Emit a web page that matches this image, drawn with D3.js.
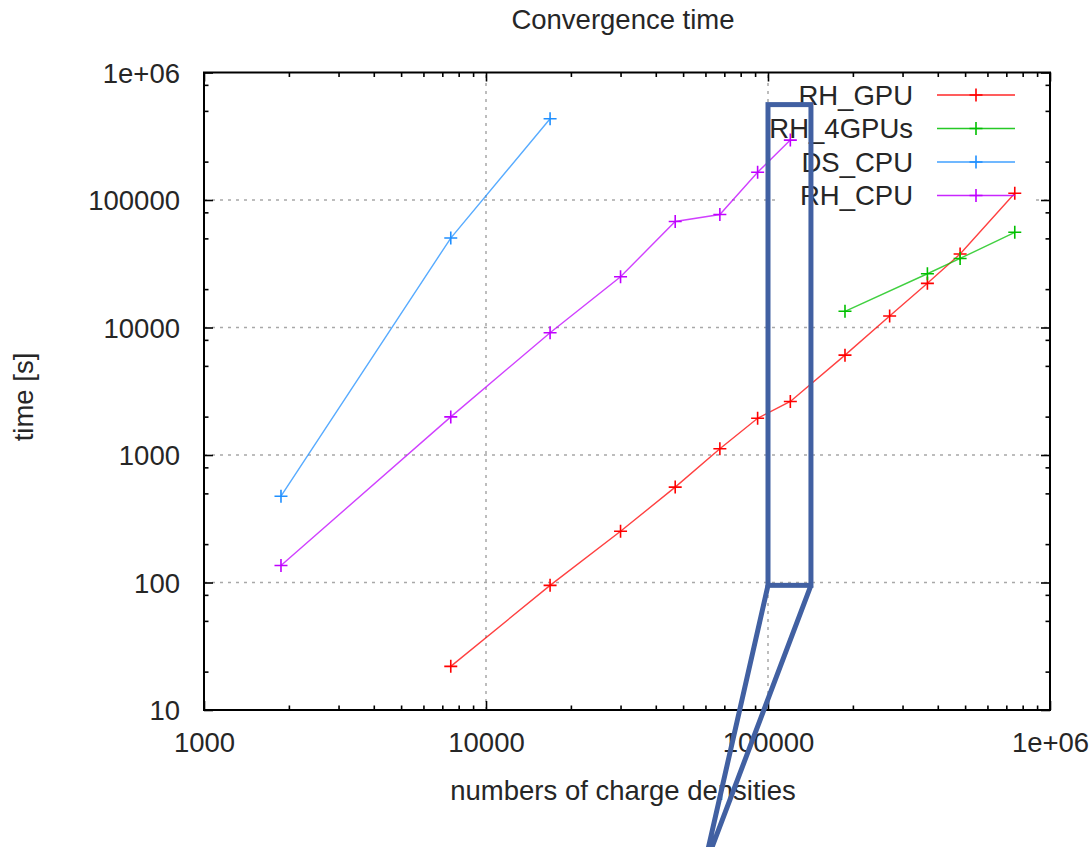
<!DOCTYPE html>
<html>
<head>
<meta charset="utf-8">
<script src="https://cdn.jsdelivr.net/npm/d3@7"></script>
<style>
  html, body { margin: 0; padding: 0; background: #fff; }
  svg text { font-family: "Liberation Sans", Arial, sans-serif; fill: #262626; }
</style>
</head>
<body>
<svg id="chart" width="1089" height="847"></svg>
<script>
// Problem sizes (numbers of charge densities)
const sizes = [1875, 7500, 16875, 30000, 46875, 67500, 91875, 120000, 187500, 270000, 367500, 480000, 750000];

// Convergence times in seconds per solver
const rhGpuX = [7500, 16875, 30000, 46875, 67500, 91875, 120000, 187500, 270000, 367500, 480000, 750000];
const rhGpuY = [22, 95, 252, 560, 1120, 1940, 2630, 6070, 12300, 22200, 37700, 113000];

const rh4GpuX = [187500, 367500, 480000, 750000];
const rh4GpuY = [13400, 26400, 34800, 55800];

const dsCpuX = [1875, 7500, 16875];
const dsCpuY = [475, 50300, 434000];

const rhCpuX = [1875, 7500, 16875, 30000, 46875, 67500, 91875, 120000];
const rhCpuY = [136, 1990, 9100, 25000, 67900, 77000, 165000, 295000];

const seriesNames = ["RH_GPU", "RH_4GPUs", "DS_CPU", "RH_CPU"];
const seriesColors = ["#ff0000", "#00c000", "#1f8fff", "#c000ff"];

const xTickValues = [1000, 10000, 100000, 1000000];
const xTickLabels = ["1000", "10000", "100000", "1e+06"];
const yTickValues = [10, 100, 1000, 10000, 100000, 1000000];
const yTickLabels = ["10", "100", "1000", "10000", "100000", "1e+06"];

// Highlighted region (callout box) in data units, plus the tip of its pointer
const calloutX = [100000, 142000];
const calloutY = [95, 560000];
const calloutTip = [58900, 0.55];

const series = [
  { xs: rhGpuX, ys: rhGpuY },
  { xs: rh4GpuX, ys: rh4GpuY },
  { xs: dsCpuX, ys: dsCpuY },
  { xs: rhCpuX, ys: rhCpuY }
].map((s, i) => ({
  name: seriesNames[i],
  color: seriesColors[i],
  points: s.xs.map((x, j) => ({ x, y: s.ys[j] }))
}));

const svg = d3.select("#chart");
const L = 204, R = 1050, T = 72.5, B = 710;
const fontSize = 27.5;

const x = d3.scaleLog().domain([1000, 1000000]).range([L, R]);
const y = d3.scaleLog().domain([10, 1000000]).range([B, T]);

// Grid (dotted) at interior major ticks
const grid = svg.append("g").attr("stroke", "#a8a8a8").attr("stroke-width", 1.5)
  .attr("stroke-dasharray", "3,5");
xTickValues.slice(1, -1).forEach(v => {
  grid.append("line").attr("x1", x(v)).attr("x2", x(v)).attr("y1", B).attr("y2", T);
});
yTickValues.slice(1, -1).forEach(v => {
  grid.append("line").attr("x1", L).attr("x2", R).attr("y1", y(v)).attr("y2", y(v));
});

// Key area is kept clear of the grid
svg.append("rect").attr("x", 778).attr("y", 80).attr("width", 257).attr("height", 132).attr("fill", "#fff");

// Minor tick positions
const xMinor = [];
[1000, 10000, 100000].forEach(d => { for (let k = 2; k <= 9; k++) xMinor.push(d * k); });
const yMinor = [];
[10, 100, 1000, 10000, 100000].forEach(d => { [2, 5, 8].forEach(k => yMinor.push(d * k)); });

// Axes with inward ticks on all four sides
const axG = svg.append("g");
function ticks(axisGen, scale, tv, size, transform) {
  const g = axG.append("g").attr("transform", transform)
    .call(axisGen(scale).tickValues(tv).tickSize(size).tickFormat(""));
  g.select(".domain").remove();
  g.selectAll(".tick line").attr("stroke", "#000").attr("stroke-width", 1.6);
}
ticks(d3.axisTop, x, xTickValues, 9, `translate(0,${B})`);
ticks(d3.axisTop, x, xMinor, 4.5, `translate(0,${B})`);
ticks(d3.axisBottom, x, xTickValues, 9, `translate(0,${T})`);
ticks(d3.axisBottom, x, xMinor, 4.5, `translate(0,${T})`);
ticks(d3.axisRight, y, yTickValues, 9, `translate(${L},0)`);
ticks(d3.axisRight, y, yMinor, 4.5, `translate(${L},0)`);
ticks(d3.axisLeft, y, yTickValues, 9, `translate(${R},0)`);
ticks(d3.axisLeft, y, yMinor, 4.5, `translate(${R},0)`);

// Tick labels
const xl = axG.append("g").attr("transform", `translate(0,${B})`)
  .call(d3.axisBottom(x).tickValues(xTickValues).tickSize(0).tickPadding(0)
    .tickFormat((d, i) => xTickLabels[i]));
xl.select(".domain").remove();
xl.selectAll("text").attr("font-size", fontSize).attr("dy", null).attr("y", 42)
  .attr("font-family", "Liberation Sans, Arial, sans-serif").attr("fill", "#262626");

const yl = axG.append("g").attr("transform", `translate(${L},0)`)
  .call(d3.axisLeft(y).tickValues(yTickValues).tickSize(0).tickPadding(0)
    .tickFormat((d, i) => yTickLabels[i]));
yl.select(".domain").remove();
yl.selectAll("text").attr("font-size", fontSize).attr("x", -24).attr("dy", "0.35em")
  .attr("font-family", "Liberation Sans, Arial, sans-serif").attr("fill", "#262626");

// Frame
svg.append("rect").attr("x", L).attr("y", T).attr("width", R - L).attr("height", B - T)
  .attr("fill", "none").attr("stroke", "#000").attr("stroke-width", 2);

// Data lines and "+" markers
const line = d3.line().x(d => x(d.x)).y(d => y(d.y));
const plus = 6.5;
function drawPlus(g, cx, cy, color) {
  g.append("path").attr("d", `M${cx - plus},${cy}H${cx + plus}M${cx},${cy - plus}V${cy + plus}`)
    .attr("stroke", color).attr("stroke-width", 1.6).attr("fill", "none");
}
const dataG = svg.append("g");
series.forEach(s => {
  dataG.append("path").datum(s.points).attr("d", line)
    .attr("fill", "none").attr("stroke", s.color).attr("stroke-width", 1.4).attr("stroke-opacity", 0.75);
  s.points.forEach(p => drawPlus(dataG, x(p.x), y(p.y), s.color));
});

// Key
const keyG = svg.append("g");
series.forEach((s, i) => {
  const ky = 95 + i * 33.5;
  keyG.append("text").attr("x", 913).attr("y", ky).attr("dy", "0.35em")
    .attr("text-anchor", "end").attr("font-size", fontSize).text(s.name);
  keyG.append("line").attr("x1", 937).attr("x2", 1015).attr("y1", ky).attr("y2", ky)
    .attr("stroke", s.color).attr("stroke-width", 1.6).attr("stroke-opacity", 0.85);
  drawPlus(keyG, 976, ky, s.color);
});

// Titles
svg.append("text").attr("x", 623).attr("y", 29).attr("text-anchor", "middle")
  .attr("font-size", fontSize).text("Convergence time");
svg.append("text").attr("x", 623).attr("y", 800).attr("text-anchor", "middle")
  .attr("font-size", fontSize).text("numbers of charge densities");
svg.append("text").attr("transform", "translate(23,397) rotate(-90)").attr("text-anchor", "middle")
  .attr("dy", "0.35em").attr("font-size", fontSize).text("time [s]");

// Callout: highlighted band with a pointer leading below the chart
const cx0 = x(calloutX[0]), cx1 = x(calloutX[1]);
const cy0 = y(calloutY[1]), cy1 = y(calloutY[0]);
const tipX = x(calloutTip[0]), tipY = y(calloutTip[1]);
const callout = svg.append("g").attr("fill", "none").attr("stroke", "#4160a2")
  .attr("stroke-width", 5).attr("stroke-linejoin", "miter");
callout.append("rect").attr("x", cx0).attr("y", cy0).attr("width", cx1 - cx0).attr("height", cy1 - cy0);
callout.append("path").attr("d", `M${cx0},${cy1}L${tipX},${tipY}L${cx1},${cy1}`);
</script>
</body>
</html>
